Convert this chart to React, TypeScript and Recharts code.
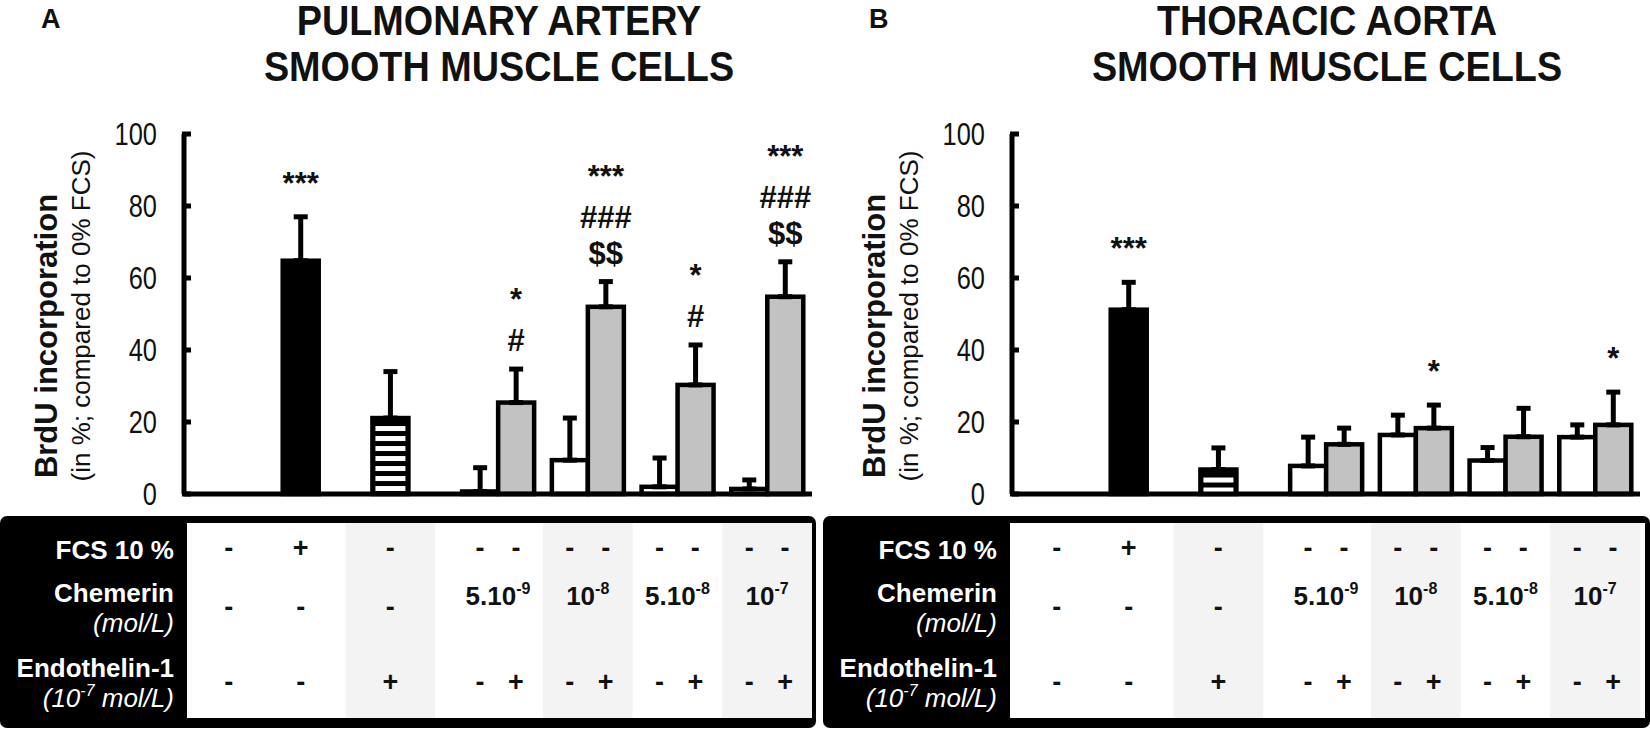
import React from "react";
import { BarChart, Bar, XAxis, YAxis, ErrorBar, LabelList } from "recharts";

const groups = ["Control", "FCS", "ET-1", "Chem 5e-9", "Chem 1e-8", "Chem 5e-8", "Chem 1e-7"];
const yTicks = [0, 20, 40, 60, 80, 100];

// A: pulmonary artery smooth muscle cells
const paAlone = [0, 64.8, 21.1, 0.7, 9.4, 2.0, 1.4];
const paAloneErr = [0, 12.2, 12.9, 6.6, 11.7, 8.0, 2.5];
const paWithEt = [null, null, null, 25.4, 52.0, 30.3, 54.8];
const paWithEtErr = [null, null, null, 9.3, 7.0, 11.1, 9.7];
const paAloneMarks = [[], ["***"], [], [], [], [], []];
const paWithEtMarks = [[], [], [], ["*", "#"], ["***", "###", "$$"], ["*", "#"], ["***", "###", "$$"]];

// B: thoracic aorta smooth muscle cells
const taAlone = [0, 51.2, 6.8, 7.8, 16.4, 9.3, 15.8];
const taAloneErr = [0, 7.6, 6.0, 8.0, 5.5, 3.6, 3.4];
const taWithEt = [null, null, null, 13.8, 18.3, 15.9, 19.2];
const taWithEtErr = [null, null, null, 4.5, 6.4, 7.9, 9.1];
const taAloneMarks = [[], ["***"], [], [], [], [], []];
const taWithEtMarks = [[], [], [], [], ["*"], [], ["*"]];

// treatment table
const fcsAloneRow = ["-", "+", "-", "-", "-", "-", "-"];
const fcsWithRow = [null, null, null, "-", "-", "-", "-"];
const chemerinRow = ["-", "-", "-", "5.10|-9", "10|-8", "5.10|-8", "10|-7"];
const etAloneRow = ["-", "-", "+", "-", "-", "-", "-"];
const etWithRow = [null, null, null, "+", "+", "+", "+"];
const shadedCols = [2, 4, 6];

const SANS = '"Liberation Sans", Arial, Helvetica, sans-serif';

const CHART_W = 828;
const CHART_H = 514;
const PLOT_LEFT = 184;
const PLOT_RIGHT = 812;
const PLOT_TOP = 134;
const PLOT_BOTTOM = 494;
const Y_AXIS_W = 60;
const CAT_GAP = 9;
const BAND = (PLOT_RIGHT - PLOT_LEFT) / groups.length;
const BAR_W = (BAND - 2 * CAT_GAP) / 2;
const PX = (PLOT_BOTTOM - PLOT_TOP) / 100;

const catCenter = (i: number) => PLOT_LEFT + (i + 0.5) * BAND;

// condensed text (the figure uses a narrow Helvetica)
function CText({ x, y, sx, children, ...rest }: any) {
  return (
    <text transform={`translate(${x},${y}) scale(${sx},1)`} fontFamily={SANS} fill="#111" {...rest}>
      {children}
    </text>
  );
}

function YTick(props: any) {
  const { x, y, payload } = props;
  return (
    <g>
      <line x1={x + 25} x2={x + 34} y1={y} y2={y} stroke="#000" strokeWidth={5} />
      <CText x={x} y={y + 11} sx={0.82} textAnchor="end" fontSize={31}>
        {payload.value}
      </CText>
    </g>
  );
}

function AloneShape(props: any) {
  const { x, y, width, height, payload } = props;
  if (!height || height <= 0) return null;
  if (payload.group === "FCS") {
    return <rect x={x} y={y} width={width} height={height} fill="#000" stroke="#000" strokeWidth={4.5} />;
  }
  if (payload.group === "ET-1") {
    const stripes = [];
    for (let sy = y + 8; sy + 4 < y + height; sy += 10) {
      stripes.push(<rect key={sy} x={x + 3} y={sy} width={width - 6} height={5} fill="#fff" />);
    }
    return (
      <g>
        <rect x={x} y={y} width={width} height={height} fill="#000" stroke="#000" strokeWidth={4.5} />
        {stripes}
      </g>
    );
  }
  return <rect x={x} y={y} width={width} height={height} fill="#fff" stroke="#000" strokeWidth={4.5} />;
}

function WithShape(props: any) {
  const { x, y, width, height } = props;
  if (height == null || height <= 0) return null;
  return <rect x={x} y={y} width={width} height={height} fill="#c2c2c2" stroke="#000" strokeWidth={4.5} />;
}

const isStar = (s: string) => s.startsWith("*");

function marksLabel(errs: (number | null)[], marks: string[][]) {
  return (props: any) => {
    const { x, y, width, value } = props;
    const i = groups.indexOf(value);
    const m = marks[i];
    if (!m || !m.length || y == null) return null;
    const top = y - (errs[i] || 0) * PX;
    const cx = x + width / 2;
    // stack the lines upward from the error bar cap
    const ys: number[] = [];
    let base = top - (isStar(m[m.length - 1]) ? 23 : 18);
    ys[m.length - 1] = base;
    for (let k = m.length - 2; k >= 0; k--) {
      base -= isStar(m[k]) ? 41 : 36;
      ys[k] = base;
    }
    return (
      <g>
        {m.map((s, k) => (
          <text
            key={k}
            x={cx}
            y={ys[k]}
            textAnchor="middle"
            fontFamily={SANS}
            fontWeight={700}
            fontSize={31}
            fill="#111"
          >
            {s}
          </text>
        ))}
      </g>
    );
  };
}

function Dose({ x, y, label }: { x: number; y: number; label: string }) {
  const [base, exp] = label.split("|");
  return (
    <text x={x} y={y} textAnchor="middle" fontFamily={SANS} fontWeight={700} fontSize={26} fill="#111">
      {base}
      {exp ? (
        <tspan dy={-11} fontSize={16}>
          {exp}
        </tspan>
      ) : null}
    </text>
  );
}

type PanelProps = {
  x0: number;
  letter: string;
  titleX: number;
  title: string[];
  alone: number[];
  aloneErr: number[];
  withEt: (number | null)[];
  withEtErr: (number | null)[];
  aloneMarks: string[][];
  withEtMarks: string[][];
  tableLeft: number;
  tableRight: number;
};

function Panel(p: PanelProps) {
  const data = groups.map((g, i) => ({
    group: g,
    alone: p.alone[i],
    aloneErr: p.aloneErr[i],
    withEt: p.withEt[i],
    withEtErr: p.withEtErr[i],
  }));

  const aloneCol = (i: number) =>
    p.withEt[i] == null && !p.alone[i] ? catCenter(i) : catCenter(i) - BAR_W / 2;
  const withCol = (i: number) => catCenter(i) + BAR_W / 2;

  const tl = p.tableLeft - p.x0;
  const tr = p.tableRight - p.x0;
  const cell = (x: number, y: number, s: string, k: string) => (
    <text key={k} x={x} y={y} textAnchor="middle" fontFamily={SANS} fontWeight={700} fontSize={27} fill="#111">
      {s}
    </text>
  );

  return (
    <div style={{ position: "absolute", left: p.x0, top: 0, width: CHART_W, height: 729 }}>
      <svg
        width={CHART_W}
        height={729}
        style={{ position: "absolute", left: 0, top: 0, overflow: "visible" }}
      >
        <text x={41} y={28} fontFamily={SANS} fontWeight={700} fontSize={27} fill="#111">
          {p.letter}
        </text>
        {p.title.map((t, k) => (
          <CText
            key={t}
            x={p.titleX}
            y={35 + k * 46}
            sx={0.9}
            textAnchor="middle"
            fontWeight={700}
            fontSize={42}
          >
            {t}
          </CText>
        ))}
        <text
          transform="translate(57,336) rotate(-90)"
          textAnchor="middle"
          fontFamily={SANS}
          fontWeight={700}
          fontSize={31}
          fill="#111"
        >
          BrdU incorporation
        </text>
        <text
          transform="translate(90,316) rotate(-90)"
          textAnchor="middle"
          fontFamily={SANS}
          fontSize={26}
          fill="#111"
        >
          (in %; compared to 0% FCS)
        </text>

        <rect x={tl} y={516} width={tr - tl} height={212} rx={7} fill="#000" />
        <rect x={tl + 187} y={523} width={tr - tl - 192} height={195} fill="#fff" />
        {shadedCols.map((i) => {
          const cx = p.withEt[i] == null ? aloneCol(i) : catCenter(i);
          return <rect key={i} x={cx - BAND / 2} y={523} width={BAND} height={195} fill="#f3f3f3" />;
        })}

        <g fontFamily={SANS} fontWeight={700} fontSize={26} fill="#fff" textAnchor="end">
          <text x={tl + 174} y={559}>FCS 10 %</text>
          <text x={tl + 174} y={602}>Chemerin</text>
          <text x={tl + 174} y={632} fontWeight={400} fontStyle="italic">
            (mol/L)
          </text>
          <text x={tl + 174} y={677}>Endothelin-1</text>
          <text x={tl + 174} y={707} fontWeight={400} fontStyle="italic">
            (10
            <tspan dy={-11} fontSize={16}>
              -7
            </tspan>
            <tspan dy={11}> mol/L)</tspan>
          </text>
        </g>

        {groups.map((_, i) => (
          <g key={i}>
            {cell(aloneCol(i), 557, fcsAloneRow[i], "f")}
            {fcsWithRow[i] ? cell(withCol(i), 557, fcsWithRow[i] as string, "fw") : null}
            {chemerinRow[i] === "-" ? (
              cell(aloneCol(i), 616, "-", "c")
            ) : (
              <Dose x={catCenter(i)} y={605} label={chemerinRow[i]} />
            )}
            {cell(aloneCol(i), 691, etAloneRow[i], "e")}
            {etWithRow[i] ? cell(withCol(i), 691, etWithRow[i] as string, "ew") : null}
          </g>
        ))}
      </svg>

      <div style={{ position: "absolute", left: 0, top: 0 }}>
        <BarChart
          width={CHART_W}
          height={CHART_H}
          data={data}
          margin={{
            top: PLOT_TOP,
            right: CHART_W - PLOT_RIGHT,
            bottom: CHART_H - PLOT_BOTTOM - 1,
            left: PLOT_LEFT - Y_AXIS_W,
          }}
          barCategoryGap={CAT_GAP}
          barGap={0}
        >
          <XAxis
            dataKey="group"
            height={1}
            tick={false}
            tickLine={false}
            axisLine={{ stroke: "#000", strokeWidth: 5 }}
          />
          <YAxis
            width={Y_AXIS_W}
            domain={[0, 100]}
            ticks={yTicks}
            interval={0}
            tickSize={0}
            tickMargin={27}
            tickLine={false}
            tick={<YTick />}
            axisLine={{ stroke: "#000", strokeWidth: 5 }}
          />
          <Bar dataKey="alone" shape={<AloneShape />} isAnimationActive={false}>
            <ErrorBar
              dataKey={(d: any) => (d.aloneErr ? [0, d.aloneErr] : null)}
              direction="y"
              width={7}
              stroke="#000"
              strokeWidth={5}
              isAnimationActive={false}
            />
            <LabelList dataKey="group" content={marksLabel(p.aloneErr, p.aloneMarks)} />
          </Bar>
          <Bar dataKey="withEt" shape={<WithShape />} isAnimationActive={false}>
            <ErrorBar
              dataKey={(d: any) => (d.withEtErr ? [0, d.withEtErr] : null)}
              direction="y"
              width={7}
              stroke="#000"
              strokeWidth={5}
              isAnimationActive={false}
            />
            <LabelList dataKey="group" content={marksLabel(p.withEtErr, p.withEtMarks)} />
          </Bar>
        </BarChart>
      </div>
    </div>
  );
}

export default function App() {
  return (
    <div style={{ position: "absolute", left: 0, top: 0, width: 1650, height: 729, background: "#fff" }}>
      <Panel
        x0={0}
        letter="A"
        titleX={499}
        title={["PULMONARY ARTERY", "SMOOTH MUSCLE CELLS"]}
        alone={paAlone}
        aloneErr={paAloneErr}
        withEt={paWithEt}
        withEtErr={paWithEtErr}
        aloneMarks={paAloneMarks}
        withEtMarks={paWithEtMarks}
        tableLeft={0}
        tableRight={816}
      />
      <Panel
        x0={828}
        letter="B"
        titleX={499}
        title={["THORACIC AORTA", "SMOOTH MUSCLE CELLS"]}
        alone={taAlone}
        aloneErr={taAloneErr}
        withEt={taWithEt}
        withEtErr={taWithEtErr}
        aloneMarks={taAloneMarks}
        withEtMarks={taWithEtMarks}
        tableLeft={823}
        tableRight={1650}
      />
    </div>
  );
}
